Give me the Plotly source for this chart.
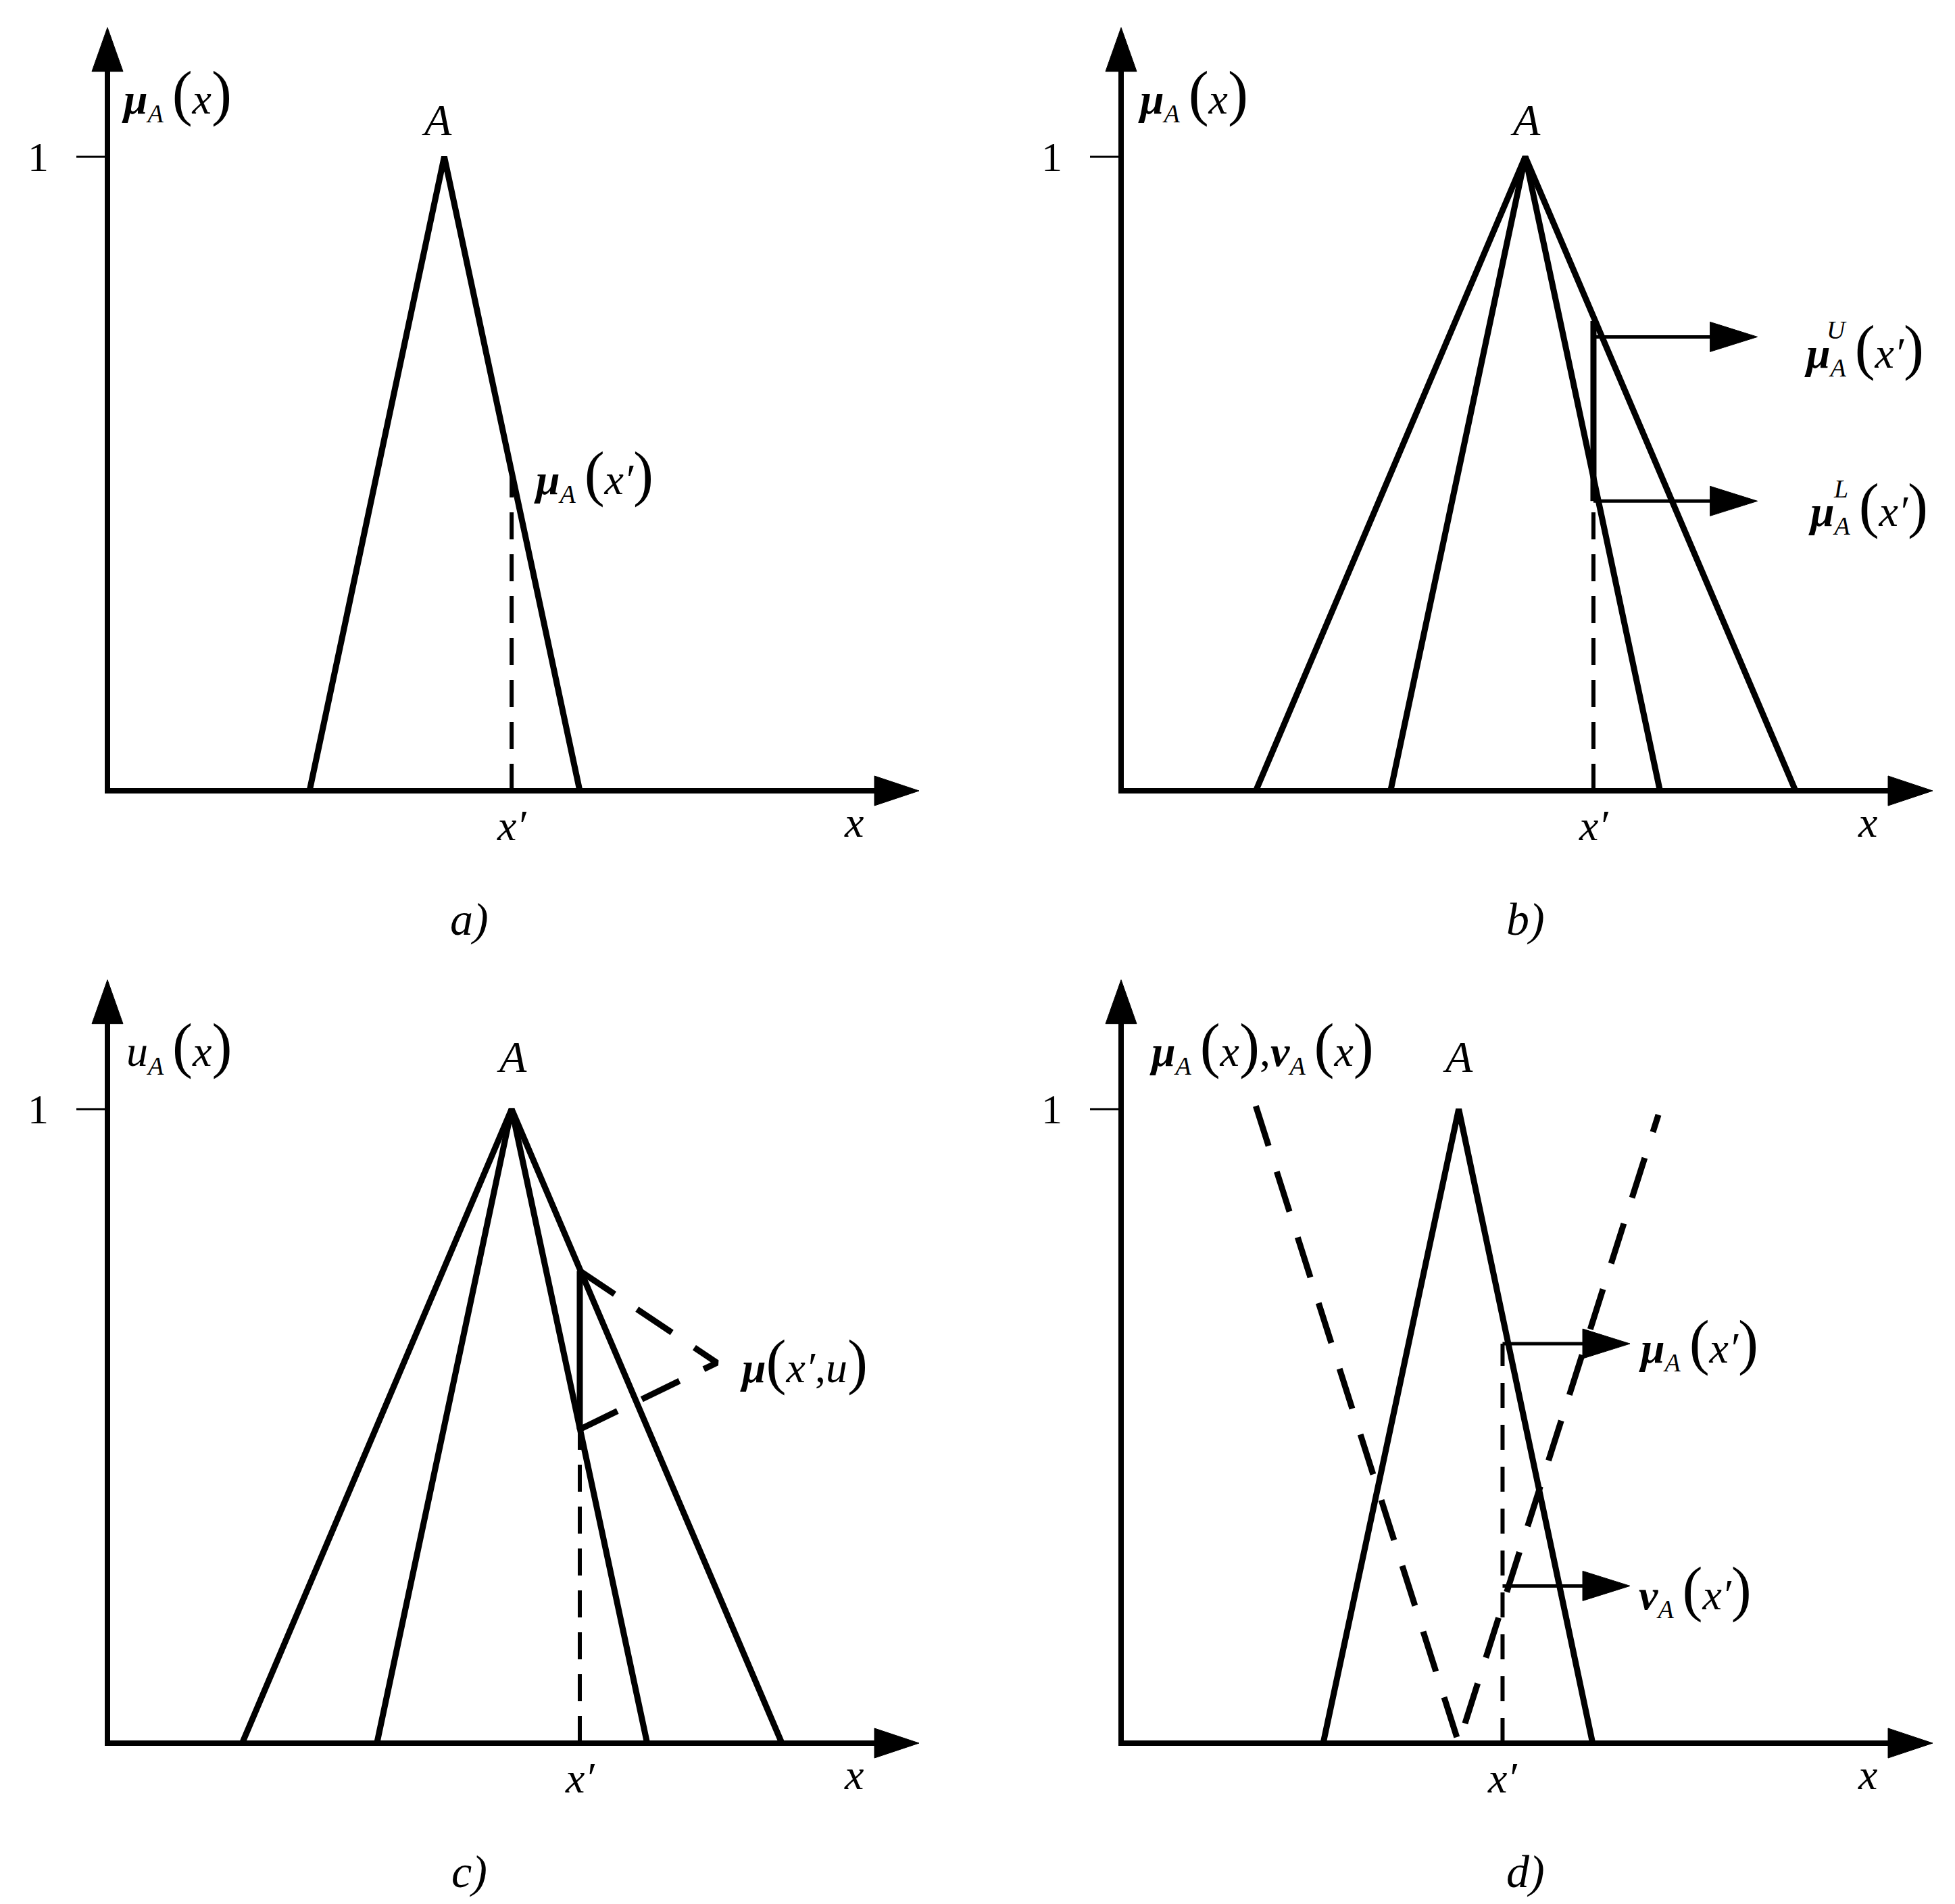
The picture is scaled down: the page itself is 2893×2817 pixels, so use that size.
import plotly.graph_objects as go

# ---- values ----
# x: abstract units (x-axis arrow ends at 10), y: membership degree
axis_len = 10.0
axis_top = 1.204
tick_one = 1.0
tri_y = [0, 1, 0]

# a) ordinary fuzzy set
a_tri_x = [2.49, 4.15, 5.82]
a_xp = 4.98
a_mu = 0.50

# b) interval-valued fuzzy set
b_outer_x = [1.66, 4.98, 8.31]
b_inner_x = [3.32, 4.98, 6.64]
b_xp = 5.82
b_upper = 0.741
b_lower = 0.457
b_arrow_y = [0.716, 0.457]
b_arrow_end = 7.84

# c) type-2 fuzzy set
c_outer_x = [1.66, 4.98, 8.31]
c_inner_x = [3.32, 4.98, 6.65]
c_xp = 5.82
c_upper = 0.745
c_lower = 0.495
c_tip_x = 7.51
c_tip_y = 0.60

# d) intuitionistic fuzzy set
d_mu_x = [2.49, 4.16, 5.81]
d_nu_x = [1.66, 4.16, 6.62]
d_nu_y = [1.005, 0, 0.991]
d_xp = 4.70
d_mu = 0.630
d_nu = 0.248
d_arrow_end = 6.27

# ---- layout constants ----
W, H = 2893, 2817
UX, UY = 120.1, 938.0          # pixels per data unit
FONT = 'Times New Roman, Liberation Serif, serif'

panels = {
    'a': dict(dx=[0, 0.5], dy=[0.5, 1], ox=151, oy=1162, ax='x', ay='y'),
    'b': dict(dx=[0.5, 1], dy=[0.5, 1], ox=1651, oy=1162, ax='x2', ay='y2'),
    'c': dict(dx=[0, 0.5], dy=[0, 0.5], ox=151, oy=2571, ax='x3', ay='y3'),
    'd': dict(dx=[0.5, 1], dy=[0, 0.5], ox=1651, oy=2571, ax='x4', ay='y4'),
}

fig = go.Figure()


def line(k, xs, ys, width=9, dash='solid'):
    p = panels[k]
    fig.add_trace(go.Scatter(x=xs, y=ys, mode='lines', xaxis=p['ax'], yaxis=p['ay'],
                             line=dict(color='black', width=width, dash=dash),
                             showlegend=False, hoverinfo='skip'))


def head(k, tx, ty, direction, length, half):
    # filled arrow head, size given in pixels
    p = panels[k]
    if direction == 'right':
        xs = [tx - length / UX, tx, tx - length / UX, tx - length / UX]
        ys = [ty - half / UY, ty, ty + half / UY, ty - half / UY]
    else:
        xs = [tx - half / UX, tx, tx + half / UX, tx - half / UX]
        ys = [ty - length / UY, ty, ty - length / UY, ty - length / UY]
    fig.add_trace(go.Scatter(x=xs, y=ys, mode='lines', fill='toself', fillcolor='black',
                             line=dict(color='black', width=1), xaxis=p['ax'], yaxis=p['ay'],
                             showlegend=False, hoverinfo='skip'))


def label(k, x, y, text, size=64, xanchor='center'):
    p = panels[k]
    fig.add_annotation(x=x, y=y, xref=p['ax'], yref=p['ay'], text=text, showarrow=False,
                       xanchor=xanchor, yanchor='middle',
                       font=dict(family=FONT, size=size, color='black'))


def frame(k, ylab, ylab_x, a_x, a_y, xp, caption):
    # axes with arrows, tick "1", axis labels, caption
    line(k, [-4 / UX, axis_len - 30 / UX], [0, 0], width=8)
    line(k, [0, 0], [0, axis_top - 30 / UY], width=8)
    head(k, axis_len, 0, 'right', 66, 22)
    head(k, 0, axis_top, 'up', 65, 23)
    line(k, [-46 / UX, 0], [tick_one, tick_one], width=3)
    label(k, -0.85, tick_one, '1', size=62)
    label(k, ylab_x, 1.10, ylab, xanchor='left')
    label(k, a_x, a_y, '<i>A</i>', size=66)
    label(k, xp, -0.055, '<i>x′</i>', size=64)
    label(k, 9.2, -0.05, '<i>x</i>', size=64)
    label(k, 4.46 if k in 'ac' else 4.98, -0.203, f'<i>{caption})</i>', size=68)


P = '<span style="font-size:90px">'
MU = '<b><i>μ</i></b>'
NU = '<b><i>ν</i></b>'
SUB_A = '<sub><span style="font-size:38px"><i>A</i></span></sub>\u2009'


def arg(inner):
    return f'{P}(</span>{inner}{P})</span>'


# a)
frame('a', MU + SUB_A + arg('<i>x</i>'), 0.16, 4.06, 1.058, a_xp, 'a')
line('a', a_tri_x, tri_y)
line('a', [a_xp, a_xp], [0, a_mu], width=6, dash='40px,22px')
label('a', 5.24, 0.50, MU + SUB_A + arg('<i>x′</i>'), xanchor='left')

# b)
frame('b', MU + SUB_A + arg('<i>x</i>'), 0.19, 4.98, 1.058, b_xp, 'b')
line('b', b_outer_x, tri_y)
line('b', b_inner_x, tri_y)
line('b', [b_xp, b_xp], [0, b_lower], width=6, dash='40px,22px')
line('b', [b_xp, b_xp], [b_lower, b_upper], width=9)
for yv in b_arrow_y:
    line('b', [b_xp, b_arrow_end - 30 / UX], [yv, yv], width=5)
    head('b', b_arrow_end, yv, 'right', 70, 22)
label('b', 8.40, 0.699, MU + SUB_A + arg('<i>x′</i>'), xanchor='left')
label('b', 8.45, 0.449, MU + SUB_A + arg('<i>x′</i>'), xanchor='left')
label('b', 8.82, 0.727, '<i>U</i>', size=38)
label('b', 8.87, 0.477, '<i>L</i>', size=38)

# c)
frame('c', '<i>u</i>' + SUB_A + arg('<i>x</i>'), 0.22, 4.98, 1.083, c_xp, 'c')
line('c', c_outer_x, tri_y)
line('c', c_inner_x, tri_y)
line('c', [c_xp, c_xp], [0, c_lower], width=6, dash='40px,22px')
line('c', [c_xp, c_xp], [c_lower, c_upper], width=9)
line('c', [c_xp, c_tip_x, c_xp], [c_upper, c_tip_y, c_lower], width=9, dash='62px,40px')
label('c', 7.78, 0.601, MU + arg('<i>x′</i>,<i>u</i>'), xanchor='left')

# d)
frame('d', MU + SUB_A + arg('<i>x</i>') + ',' + NU + SUB_A + arg('<i>x</i>'),
      0.33, 4.15, 1.083, d_xp, 'd')
line('d', d_mu_x, tri_y)
line('d', d_nu_x, d_nu_y, width=9, dash='62px,40px')
line('d', [d_xp, d_xp], [0, d_mu], width=6, dash='37px,25px')
for yv in [d_mu, d_nu]:
    line('d', [d_xp, d_arrow_end - 30 / UX], [yv, yv], width=5)
    head('d', d_arrow_end, yv, 'right', 70, 22)
label('d', 6.36, 0.632, MU + SUB_A + arg('<i>x′</i>'), xanchor='left')
label('d', 6.36, 0.243, NU + SUB_A + arg('<i>x′</i>'), xanchor='left')

# axes: ranges chosen so that every panel has the same pixel scale
for i, (k, p) in enumerate(panels.items()):
    sfx = '' if i == 0 else str(i + 1)
    left, right = p['dx'][0] * W, p['dx'][1] * W
    top, bottom = (1 - p['dy'][1]) * H, (1 - p['dy'][0]) * H
    xr = [(left - p['ox']) / UX, (right - p['ox']) / UX]
    yr = [(p['oy'] - bottom) / UY, (p['oy'] - top) / UY]
    fig.update_layout({
        f'xaxis{sfx}': dict(domain=p['dx'], range=xr, visible=False, fixedrange=True,
                            anchor=p['ay']),
        f'yaxis{sfx}': dict(domain=p['dy'], range=yr, visible=False, fixedrange=True,
                            anchor=p['ax']),
    })

fig.update_layout(width=W, height=H, margin=dict(l=0, r=0, t=0, b=0, pad=0),
                  plot_bgcolor='white', paper_bgcolor='white', showlegend=False)

fig.write_html("out.html")
